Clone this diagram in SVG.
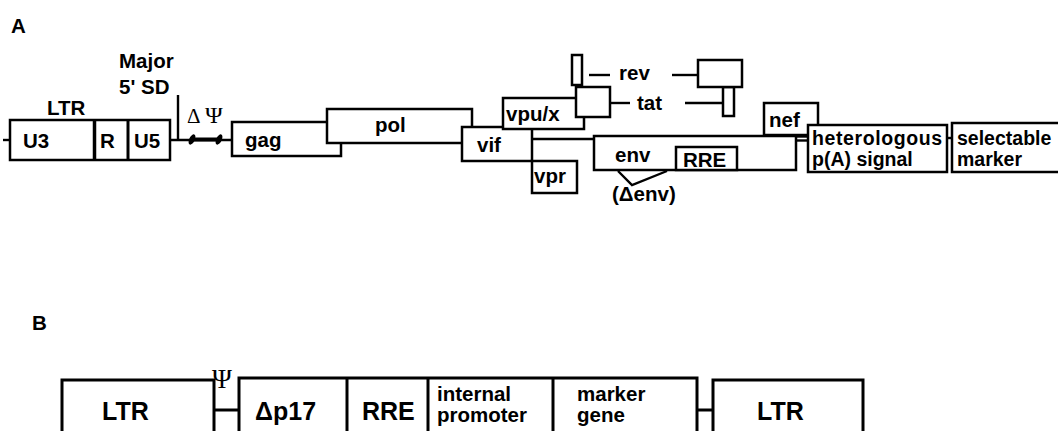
<svg xmlns="http://www.w3.org/2000/svg" width="1058" height="431" viewBox="0 0 1058 431">
<style>
.bx{fill:#fff;stroke:#000;stroke-width:2.5}
.bxb{fill:#fff;stroke:#000;stroke-width:3}
.ln{fill:none;stroke:#000;stroke-width:2.4}
.lnb{fill:none;stroke:#000;stroke-width:3}
.t{font-family:"Liberation Sans",Arial,sans-serif;font-weight:bold;font-size:20.5px;fill:#000}
.t2{font-family:"Liberation Sans",Arial,sans-serif;font-weight:bold;font-size:19.5px;fill:#000}
.tb{font-family:"Liberation Sans",Arial,sans-serif;font-weight:bold;font-size:25px;fill:#000}
.tm{font-family:"Liberation Sans",Arial,sans-serif;font-weight:bold;font-size:20.5px;fill:#000}
.s{font-family:"Liberation Serif","Times New Roman",serif;fill:#000}
</style>
<rect width="1058" height="431" fill="#fff"/>
<text class="t" x="11" y="33" font-size="22">A</text>
<text class="t" x="32" y="330" font-size="22">B</text>

<g id="connectors">
<line class="ln" x1="3" y1="140" x2="10" y2="140"/>
<line class="ln" x1="170" y1="140" x2="232" y2="140"/>
<line class="ln" x1="178" y1="95" x2="178" y2="140"/>
<line x1="190" y1="139.5" x2="221" y2="139.5" stroke="#000" stroke-width="4"/>
<ellipse cx="192" cy="139.5" rx="2.8" ry="5.5" transform="rotate(25 192 139.5)" fill="#000"/>
<ellipse cx="219" cy="139.5" rx="2.8" ry="5.5" transform="rotate(25 219 139.5)" fill="#000"/>
<line class="ln" x1="532" y1="139" x2="594" y2="139"/>
<line class="ln" x1="589" y1="75" x2="610" y2="75"/>
<line class="ln" x1="672" y1="75" x2="698" y2="75"/>
<line class="ln" x1="610" y1="103" x2="630" y2="103"/>
<line class="ln" x1="685" y1="103" x2="723" y2="103"/>
<line class="ln" x1="796" y1="136.5" x2="808" y2="136.5"/>
<line class="ln" x1="796" y1="140.5" x2="808" y2="140.5"/>
<line class="ln" x1="947" y1="138" x2="952" y2="138"/>
<polyline class="ln" points="618,171 632,185 667,171"/>
<line class="lnb" x1="214" y1="410" x2="239" y2="410"/>
<line class="lnb" x1="697" y1="410" x2="713" y2="410"/>
</g>

<g id="ltrA">
<rect class="bx" x="10" y="120" width="160" height="40"/>
<line x1="94.5" y1="120" x2="94.5" y2="160" stroke="#000" stroke-width="3.5"/>
<line x1="128" y1="120" x2="128" y2="160" stroke="#000" stroke-width="3"/>
<text class="t" x="47" y="115">LTR</text>
<text class="t" x="23" y="148">U3</text>
<text class="t" x="100" y="148">R</text>
<text class="t" x="134" y="148">U5</text>
</g>
<g id="sd">
<text class="t" x="119" y="68">Major</text>
<text class="t" x="119" y="94">5' SD</text>
</g>
<g id="psiA">
<text class="s" x="187" y="123" font-size="21">Δ</text>
<text class="s" x="205" y="123" font-size="24">Ψ</text>
</g>
<g id="gag">
<rect class="bx" x="232" y="122" width="109" height="34"/>
<text class="t" x="245" y="147">gag</text>
</g>
<g id="pol">
<rect class="bx" x="327" y="109" width="145" height="34"/>
<text class="t" x="375" y="132">pol</text>
</g>
<g id="vif">
<rect class="bx" x="462" y="127" width="70" height="34"/>
<text class="t" x="477" y="152">vif</text>
</g>
<g id="vpr">
<rect class="bx" x="532" y="161" width="45" height="32"/>
<text class="t" x="534" y="183">vpr</text>
</g>
<g id="vpux">
<rect class="bx" x="503" y="98" width="81" height="31"/>
<text class="t" x="506" y="121">vpu/x</text>
</g>
<g id="tat">
<rect class="bx" x="576" y="87" width="34" height="30"/>
<rect class="bx" x="723" y="87" width="11" height="29"/>
<text class="t" x="637" y="110">tat</text>
</g>
<g id="rev">
<rect class="bx" x="572" y="55" width="10" height="30"/>
<rect class="bx" x="698" y="60" width="44" height="27"/>
<text class="t" x="619" y="80">rev</text>
</g>
<g id="env">
<rect class="bx" x="594" y="136" width="202" height="34"/>
<rect class="bx" x="676" y="147" width="61" height="23"/>
<text class="t" x="615" y="162">env</text>
<text class="t" x="683" y="167" font-size="18.5">RRE</text>
<text class="t" x="612" y="201" font-size="19">(Δenv)</text>
</g>
<g id="nef">
<rect class="bx" x="764" y="103" width="54" height="32"/>
<text class="t" x="769" y="127">nef</text>
</g>
<g id="polyA">
<rect class="bx" x="808" y="125" width="139" height="47"/>
<text class="t2" x="812" y="145" textLength="130">heterologous</text>
<text class="t2" x="812" y="166">p(A) signal</text>
</g>
<g id="marker">
<rect class="bx" x="952" y="123" width="110" height="49"/>
<text class="t2" x="957" y="145">selectable</text>
<text class="t2" x="957" y="166">marker</text>
</g>

<g id="ltrB1">
<rect class="bxb" x="62" y="380" width="152" height="60"/>
<text class="tb" x="102" y="420">LTR</text>
</g>
<g id="psiB">
<text class="s" x="212" y="388" font-size="27">Ψ</text>
</g>
<g id="vectorB">
<rect class="bxb" x="239" y="378" width="458" height="62"/>
<line class="lnb" x1="347" y1="378" x2="347" y2="431"/>
<line class="lnb" x1="428" y1="378" x2="428" y2="431"/>
<line class="lnb" x1="553" y1="378" x2="553" y2="431"/>
<text class="tb" x="255" y="420">Δp17</text>
<text class="tb" x="362" y="420">RRE</text>
<text class="tm" x="437" y="401">internal</text>
<text class="tm" x="437" y="422">promoter</text>
<text class="tm" x="577" y="401">marker</text>
<text class="tm" x="577" y="422">gene</text>
</g>
<g id="ltrB2">
<rect class="bxb" x="713" y="380" width="150" height="60"/>
<text class="tb" x="757" y="420">LTR</text>
</g>
</svg>
